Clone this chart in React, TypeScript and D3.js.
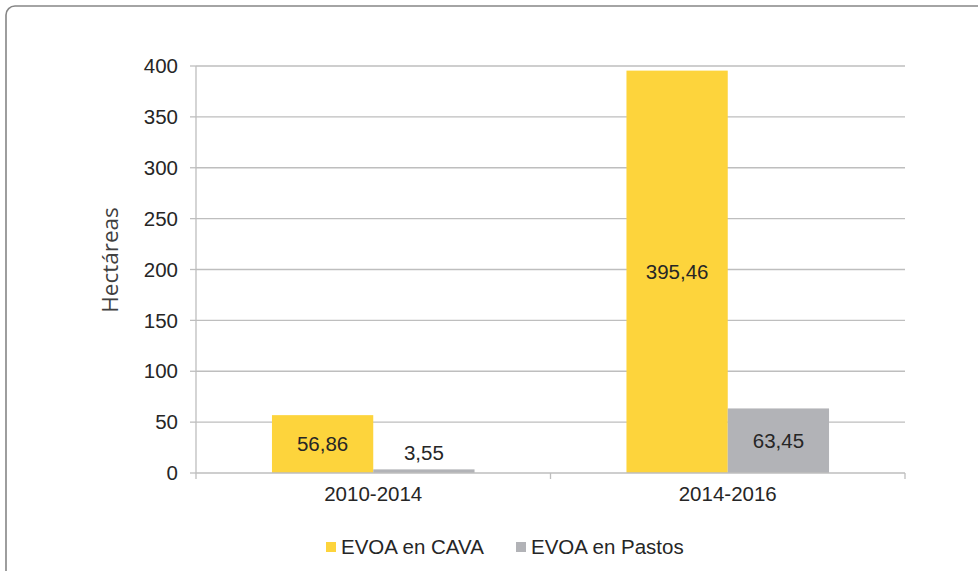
import React from "react";
import * as d3 from "d3";

const categories = ["2010-2014", "2014-2016"];
const seriesNames = ["EVOA en CAVA", "EVOA en Pastos"];
const cavaValues = [56.86, 395.46];
const pastosValues = [3.55, 63.45];
const yTicks = [0, 50, 100, 150, 200, 250, 300, 350, 400];
const colors = ["#FDD43C", "#B2B3B7"];

const W = 978;
const H = 571;
const plot = { left: 196, right: 905, top: 66, bottom: 473 };
const FONT = "'Liberation Sans', Arial, sans-serif";
const FS = 20.5;

export default function App() {
  const x0 = d3.scaleBand<string>().domain(categories).range([plot.left, plot.right]).paddingInner(0).paddingOuter(0);
  const bw = x0.bandwidth();
  const barW = bw / 3.5;
  const y = d3.scaleLinear().domain([0, 400]).range([plot.bottom, plot.top]);
  const series = [cavaValues, pastosValues];
  const fmt = (v: number) => v.toFixed(2).replace(".", ",");

  return (
    <svg width={W} height={H} style={{ position: "absolute", left: 0, top: 0, background: "#fff" }}>
      <rect x={6} y={6} width={1100} height={700} rx={9} ry={9} fill="#fff" stroke="#868686" strokeWidth={1.6} />
      {yTicks.map((t) => (
        <g key={t}>
          {t > 0 && (
            <line x1={plot.left} x2={plot.right} y1={y(t)} y2={y(t)} stroke="#BEBEBE" strokeWidth={1.3} />
          )}
          <line x1={plot.left - 6} x2={plot.left} y1={y(t)} y2={y(t)} stroke="#BEBEBE" strokeWidth={1.3} />
          <text x={178} y={y(t)} dy="0.35em" textAnchor="end" fontFamily={FONT} fontSize={FS} fill="#262626">
            {t}
          </text>
        </g>
      ))}
      <line x1={plot.left} x2={plot.left} y1={plot.top} y2={plot.bottom} stroke="#BEBEBE" strokeWidth={1.3} />
      {categories.map((c, ci) => {
        const start = (x0(c) as number) + barW * 0.75;
        return (
          <g key={c}>
            {series.map((vals, si) => {
              const v = vals[ci];
              const bx = start + si * barW;
              const by = y(v);
              const bh = y(0) - by;
              const inside = bh > 30;
              return (
                <g key={si}>
                  <rect x={bx} y={by} width={barW} height={bh} fill={colors[si]} />
                  <text
                    x={bx + barW / 2}
                    y={inside ? by + bh / 2 : by - 17}
                    dy="0.35em"
                    textAnchor="middle"
                    fontFamily={FONT}
                    fontSize={FS}
                    fill="#262626"
                  >
                    {fmt(v)}
                  </text>
                </g>
              );
            })}
            <text
              x={(x0(c) as number) + bw / 2}
              y={494}
              dy="0.35em"
              textAnchor="middle"
              fontFamily={FONT}
              fontSize={FS}
              fill="#262626"
            >
              {c}
            </text>
          </g>
        );
      })}
      <line x1={plot.left} x2={plot.right} y1={plot.bottom} y2={plot.bottom} stroke="#BEBEBE" strokeWidth={1.3} />
      {[plot.left, plot.left + bw, plot.right].map((tx, i) => (
        <line key={i} x1={tx} x2={tx} y1={plot.bottom} y2={plot.bottom + 6} stroke="#BEBEBE" strokeWidth={1.3} />
      ))}
      <text
        transform={`translate(110, 260) rotate(-90)`}
        textAnchor="middle"
        dy="0.35em"
        fontFamily="'Open Sans', sans-serif"
        fontSize={22.5}
        fill="#404040"
      >
        Hectáreas
      </text>
      {seriesNames.map((n, i) => {
        const lx = i === 0 ? 326 : 516;
        return (
          <g key={n}>
            <rect x={lx} y={542} width={10} height={10} fill={colors[i]} />
            <text x={lx + 15} y={547} dy="0.35em" fontFamily={FONT} fontSize={FS} fill="#262626">
              {n}
            </text>
          </g>
        );
      })}
    </svg>
  );
}
